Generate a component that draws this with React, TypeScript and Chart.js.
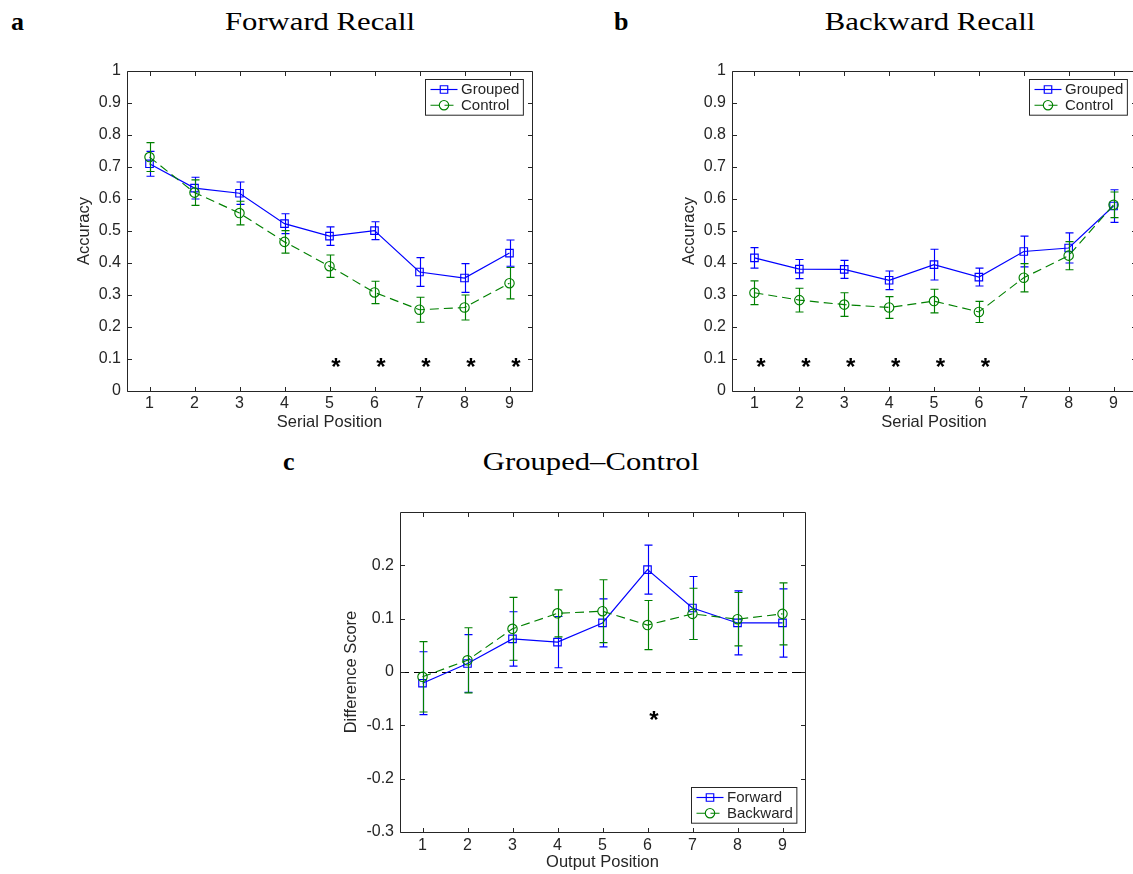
import React, { useEffect, useRef } from 'react';
import { Chart, registerables } from 'chart.js';

Chart.register(...registerables);

// ---------- data ----------
const serialPositions = [1, 2, 3, 4, 5, 6, 7, 8, 9];

const forwardGrouped = [0.710, 0.634, 0.618, 0.523, 0.484, 0.501, 0.372, 0.353, 0.431];
const forwardGroupedErr = [0.039, 0.034, 0.035, 0.031, 0.029, 0.028, 0.045, 0.045, 0.041];
const forwardControl = [0.731, 0.620, 0.556, 0.466, 0.390, 0.308, 0.254, 0.261, 0.337];
const forwardControlErr = [0.045, 0.040, 0.037, 0.035, 0.035, 0.035, 0.039, 0.039, 0.049];

const backwardGrouped = [0.416, 0.381, 0.380, 0.346, 0.395, 0.356, 0.436, 0.447, 0.578];
const backwardGroupedErr = [0.032, 0.030, 0.028, 0.029, 0.048, 0.028, 0.048, 0.047, 0.051];
const backwardControl = [0.307, 0.284, 0.270, 0.261, 0.281, 0.247, 0.354, 0.423, 0.582];
const backwardControlErr = [0.037, 0.037, 0.037, 0.034, 0.037, 0.033, 0.044, 0.044, 0.040];

const diffForward = [-0.021, 0.016, 0.062, 0.056, 0.092, 0.192, 0.120, 0.092, 0.092];
const diffForwardErr = [0.059, 0.054, 0.051, 0.048, 0.045, 0.046, 0.059, 0.060, 0.064];
const diffBackward = [-0.009, 0.022, 0.081, 0.110, 0.114, 0.088, 0.109, 0.099, 0.109];
const diffBackwardErr = [0.066, 0.061, 0.059, 0.044, 0.059, 0.046, 0.048, 0.050, 0.058];

const forwardStars = [5, 6, 7, 8, 9];
const backwardStars = [1, 2, 3, 4, 5, 6];
const diffStars = [6];
const accuracyStarLevel = 0.09;
const diffStarLevel = -0.081;

const accuracyTicks = [0, 0.1, 0.2, 0.3, 0.4, 0.5, 0.6, 0.7, 0.8, 0.9, 1];
const diffTicks = [-0.3, -0.2, -0.1, 0, 0.1, 0.2];

// ---------- styles ----------
const SANS = '"Liberation Sans", Arial, Helvetica, sans-serif';
const SERIF = '"Liberation Serif", "Times New Roman", serif';
const AXIS_COLOR = '#262626';
const BLUE = '#0000ff';
const GREEN = '#008000';
const DASH = [9, 5];
const LW = 1.15;

type Series = {
  label: string;
  values: number[];
  errors: number[];
  color: string;
  dash: number[];
  pointStyle: 'rect' | 'circle';
  radius: number;
};

type PanelSpec = {
  series: Series[];
  xTicks: number[];
  yTicks: number[];
  yMin: number;
  yMax: number;
  xLabel: string;
  yLabel: string;
  padTop: number;
  padRight: number;
  yAxisWidth: number;
  xAxisHeight: number;
  yTitlePad: number;
  xTickPad: number;
  xTitlePad: number;
  stars: number[];
  starLevel: number;
  legendPos: 'top' | 'bottom';
  zeroLine: boolean;
};

function makePlugin(spec: PanelSpec) {
  return {
    id: 'matlabAxes',
    beforeDatasetsDraw(chart: any) {
      if (!spec.zeroLine) return;
      const { ctx, chartArea: a, scales } = chart;
      const y0 = Math.round(scales.y.getPixelForValue(0)) + 0.5;
      ctx.save();
      ctx.strokeStyle = '#000';
      ctx.lineWidth = 1;
      ctx.setLineDash(DASH);
      ctx.beginPath();
      ctx.moveTo(a.left, y0);
      ctx.lineTo(a.right, y0);
      ctx.stroke();
      ctx.restore();
    },
    afterDatasetDraw(chart: any, args: any) {
      const s = spec.series[args.index];
      if (!s) return;
      const { ctx, scales } = chart;
      ctx.save();
      ctx.strokeStyle = s.color;
      ctx.lineWidth = LW;
      ctx.setLineDash([]);
      const cap = 4;
      spec.xTicks.forEach((xv, i) => {
        const v = s.values[i];
        const e = s.errors[i];
        const px = Math.round(scales.x.getPixelForValue(xv)) + 0.5;
        const yt = scales.y.getPixelForValue(v + e);
        const yb = scales.y.getPixelForValue(v - e);
        ctx.beginPath();
        ctx.moveTo(px, yt);
        ctx.lineTo(px, yb);
        ctx.moveTo(px - cap, yt);
        ctx.lineTo(px + cap, yt);
        ctx.moveTo(px - cap, yb);
        ctx.lineTo(px + cap, yb);
        ctx.stroke();
      });
      ctx.restore();
    },
    afterDatasetsDraw(chart: any) {
      const { ctx, chartArea: a, scales } = chart;
      const L = Math.round(a.left) + 0.5;
      const R = Math.round(a.right) + 0.5;
      const T = Math.round(a.top) + 0.5;
      const B = Math.round(a.bottom) + 0.5;
      ctx.save();
      ctx.setLineDash([]);
      ctx.strokeStyle = AXIS_COLOR;
      ctx.lineWidth = 1;
      ctx.beginPath();
      ctx.rect(L, T, R - L, B - T);
      ctx.stroke();
      const tl = 4.5;
      ctx.beginPath();
      spec.xTicks.forEach((xv) => {
        const px = Math.round(scales.x.getPixelForValue(xv)) + 0.5;
        ctx.moveTo(px, B);
        ctx.lineTo(px, B - tl);
        ctx.moveTo(px, T);
        ctx.lineTo(px, T + tl);
      });
      spec.yTicks.forEach((yv) => {
        const py = Math.round(scales.y.getPixelForValue(yv)) + 0.5;
        ctx.moveTo(L, py);
        ctx.lineTo(L + tl, py);
        ctx.moveTo(R, py);
        ctx.lineTo(R - tl, py);
      });
      ctx.stroke();

      // significance stars
      ctx.fillStyle = '#000';
      ctx.font = `bold 24px ${SANS}`;
      ctx.textAlign = 'center';
      ctx.textBaseline = 'alphabetic';
      const m = ctx.measureText('*');
      const asc = m.actualBoundingBoxAscent;
      const desc = m.actualBoundingBoxDescent;
      spec.stars.forEach((sx) => {
        const px = scales.x.getPixelForValue(sx) + 6.5;
        const py = scales.y.getPixelForValue(spec.starLevel);
        ctx.fillText('*', px, py - (desc - asc) / 2);
      });

      // legend
      ctx.font = `15px ${SANS}`;
      const textW = Math.max(...spec.series.map((s) => ctx.measureText(s.label).width));
      const padL = 5, lineLen = 27, gap = 3.5, padR = 4;
      const boxW = padL + lineLen + gap + textW + padR;
      const boxH = 35.7;
      const bx = Math.round(a.right - 9 - boxW) + 0.5;
      const by = spec.legendPos === 'top'
        ? Math.round(a.top + 8.3) + 0.5
        : Math.round(a.bottom - 9.3 - boxH) + 0.5;
      ctx.fillStyle = '#fff';
      ctx.fillRect(bx, by, boxW, boxH);
      ctx.strokeStyle = AXIS_COLOR;
      ctx.lineWidth = 1;
      ctx.strokeRect(bx, by, boxW, boxH);
      spec.series.forEach((s, i) => {
        const cy = by + 10 + i * 15.7;
        const x0 = bx + padL;
        ctx.strokeStyle = s.color;
        ctx.lineWidth = LW;
        ctx.setLineDash(s.dash);
        ctx.beginPath();
        ctx.moveTo(x0, cy);
        ctx.lineTo(x0 + lineLen, cy);
        ctx.stroke();
        ctx.setLineDash([]);
        const cx = x0 + lineLen / 2;
        ctx.beginPath();
        if (s.pointStyle === 'rect') {
          const h = s.radius * Math.SQRT1_2;
          ctx.rect(cx - h, cy - h, 2 * h, 2 * h);
        } else {
          ctx.arc(cx, cy, s.radius, 0, Math.PI * 2);
        }
        ctx.stroke();
        ctx.fillStyle = AXIS_COLOR;
        ctx.textAlign = 'left';
        ctx.textBaseline = 'middle';
        ctx.fillText(s.label, x0 + lineLen + gap, cy + 0.5);
      });
      ctx.restore();
    },
  };
}

function buildConfig(spec: PanelSpec): any {
  // later series (green) is drawn on top of earlier (blue)
  const datasets = spec.series.map((s, idx) => ({
    label: s.label,
    data: spec.xTicks.map((x, i) => ({ x, y: s.values[i] })),
    borderColor: s.color,
    borderWidth: LW,
    borderDash: s.dash,
    backgroundColor: 'rgba(0,0,0,0)',
    fill: false,
    tension: 0,
    pointStyle: s.pointStyle,
    pointRadius: s.radius,
    pointHoverRadius: s.radius,
    pointBorderColor: s.color,
    pointBackgroundColor: 'rgba(0,0,0,0)',
    pointBorderWidth: LW,
    order: spec.series.length - idx,
    clip: false,
  }));
  return {
    type: 'line',
    data: { datasets },
    options: {
      responsive: false,
      animation: false,
      devicePixelRatio: 1,
      layout: { padding: { top: spec.padTop, right: spec.padRight, left: 0, bottom: 0 } },
      plugins: { legend: { display: false }, tooltip: { enabled: false }, title: { display: false } },
      scales: {
        x: {
          type: 'linear',
          min: 0.5,
          max: 9.5,
          afterBuildTicks: (scale: any) => {
            scale.ticks = spec.xTicks.map((v) => ({ value: v }));
          },
          afterFit: (scale: any) => {
            scale.height = spec.xAxisHeight;
          },
          grid: { display: false, drawTicks: false },
          border: { display: false },
          ticks: {
            autoSkip: false,
            maxRotation: 0,
            padding: spec.xTickPad,
            color: AXIS_COLOR,
            font: { family: SANS, size: 16 },
            callback: (v: number) => String(v),
          },
          title: {
            display: true,
            text: spec.xLabel,
            color: AXIS_COLOR,
            font: { family: SANS, size: 16.5 },
            padding: { top: 0, bottom: spec.xTitlePad },
          },
        },
        y: {
          type: 'linear',
          min: spec.yMin,
          max: spec.yMax,
          afterBuildTicks: (scale: any) => {
            scale.ticks = spec.yTicks.map((v) => ({ value: v }));
          },
          afterFit: (scale: any) => {
            scale.width = spec.yAxisWidth;
          },
          grid: { display: false, drawTicks: false },
          border: { display: false },
          ticks: {
            padding: 6,
            color: AXIS_COLOR,
            font: { family: SANS, size: 16 },
            callback: (v: number) => String(Math.round(v * 10) / 10),
          },
          title: {
            display: true,
            text: spec.yLabel,
            color: AXIS_COLOR,
            font: { family: SANS, size: 16.5 },
            padding: { top: spec.yTitlePad, bottom: 0 },
          },
        },
      },
    },
    plugins: [makePlugin(spec)],
  };
}

function Panel({ left, top, width, height, spec }: { left: number; top: number; width: number; height: number; spec: PanelSpec }) {
  const ref = useRef<HTMLCanvasElement>(null);
  useEffect(() => {
    const chart = new Chart(ref.current as HTMLCanvasElement, buildConfig(spec));
    return () => chart.destroy();
  }, []);
  return (
    <canvas
      ref={ref}
      width={width}
      height={height}
      style={{ position: 'absolute', left, top, width, height }}
    />
  );
}

const groupedStyle = { color: BLUE, dash: [] as number[], pointStyle: 'rect' as const, radius: 5.3 };
const controlStyle = { color: GREEN, dash: DASH, pointStyle: 'circle' as const, radius: 4.7 };

const specA: PanelSpec = {
  series: [
    { label: 'Grouped', values: forwardGrouped, errors: forwardGroupedErr, ...groupedStyle },
    { label: 'Control', values: forwardControl, errors: forwardControlErr, ...controlStyle },
  ],
  xTicks: serialPositions,
  yTicks: accuracyTicks,
  yMin: 0,
  yMax: 1,
  xLabel: 'Serial Position',
  yLabel: 'Accuracy',
  padTop: 21,
  padRight: 8,
  yAxisWidth: 87,
  xAxisHeight: 49,
  yTitlePad: 35,
  xTickPad: 3,
  xTitlePad: 8,
  stars: forwardStars,
  starLevel: accuracyStarLevel,
  legendPos: 'top',
  zeroLine: false,
};

const specB: PanelSpec = {
  ...specA,
  series: [
    { label: 'Grouped', values: backwardGrouped, errors: backwardGroupedErr, ...groupedStyle },
    { label: 'Control', values: backwardControl, errors: backwardControlErr, ...controlStyle },
  ],
  padRight: 14,
  yAxisWidth: 72,
  yTitlePad: 20,
  stars: backwardStars,
};

const specC: PanelSpec = {
  series: [
    { label: 'Forward', values: diffForward, errors: diffForwardErr, ...groupedStyle },
    { label: 'Backward', values: diffBackward, errors: diffBackwardErr, ...controlStyle },
  ],
  xTicks: serialPositions,
  yTicks: diffTicks,
  yMin: -0.3,
  yMax: 0.3,
  xLabel: 'Output Position',
  yLabel: 'Difference Score',
  padTop: 22,
  padRight: 15,
  yAxisWidth: 80,
  xAxisHeight: 42,
  yTitlePad: 22,
  xTickPad: 4,
  xTitlePad: 1.4,
  stars: diffStars,
  starLevel: diffStarLevel,
  legendPos: 'bottom',
  zeroLine: true,
};

const titleBase: React.CSSProperties = {
  position: 'absolute',
  fontFamily: SERIF,
  fontSize: 26,
  lineHeight: '26px',
  color: '#000',
  whiteSpace: 'nowrap',
};

function CenteredTitle({ text, center, top }: { text: string; center: number; top: number }) {
  return (
    <div
      style={{
        ...titleBase,
        left: center - 250,
        width: 500,
        top,
        textAlign: 'center',
        transform: 'scaleX(1.18)',
        transformOrigin: 'center',
      }}
    >
      {text}
    </div>
  );
}

function PanelLetter({ text, left, top }: { text: string; left: number; top: number }) {
  return <div style={{ ...titleBase, left, top, fontWeight: 'bold' }}>{text}</div>;
}

export default function App() {
  return (
    <div
      style={{
        position: 'absolute',
        left: 0,
        top: 0,
        width: 1133,
        height: 874,
        overflow: 'hidden',
        background: '#fff',
      }}
    >
      <PanelLetter text="a" left={11} top={9} />
      <CenteredTitle text="Forward Recall" center={319.5} top={9} />
      <PanelLetter text="b" left={614} top={9} />
      <CenteredTitle text="Backward Recall" center={929.5} top={9} />
      <PanelLetter text="c" left={283} top={449} />
      <CenteredTitle text="Grouped–Control" center={591} top={449} />
      <Panel left={40} top={50} width={500} height={390} spec={specA} />
      <Panel left={660} top={50} width={490} height={390} spec={specB} />
      <Panel left={320} top={490} width={500} height={384} spec={specC} />
    </div>
  );
}
